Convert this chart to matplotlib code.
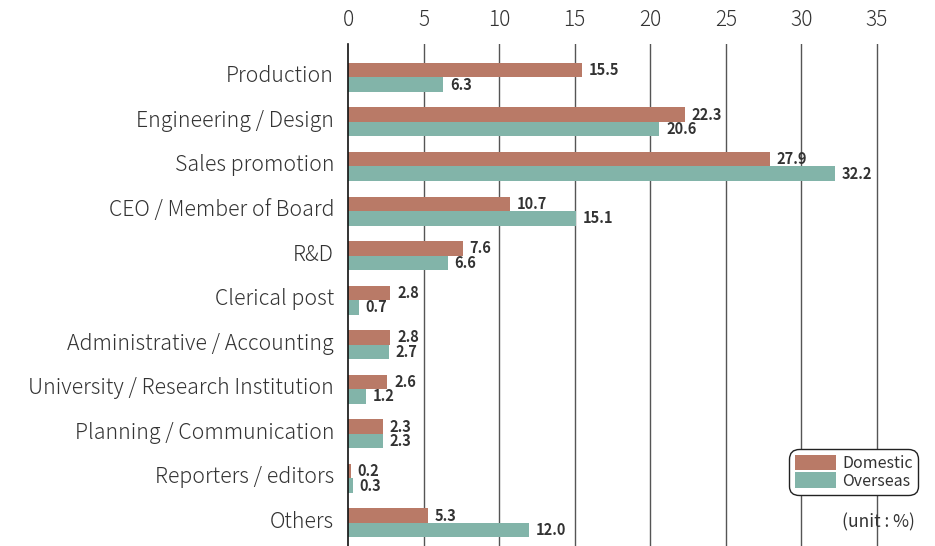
import numpy as np
import matplotlib.pyplot as plt

plt.rcParams['font.family'] = ['Noto Sans CJK JP', 'DejaVu Sans']

# data
categories = ['Production', 'Engineering / Design', 'Sales promotion',
              'CEO / Member of Board', 'R&D', 'Clerical post',
              'Administrative / Accounting', 'University / Research Institution',
              'Planning / Communication', 'Reporters / editors', 'Others']
domestic = [15.5, 22.3, 27.9, 10.7, 7.6, 2.8, 2.8, 2.6, 2.3, 0.2, 5.3]
overseas = [6.3, 20.6, 32.2, 15.1, 6.6, 0.7, 2.7, 1.2, 2.3, 0.3, 12.0]
xticks = [0, 5, 10, 15, 20, 25, 30, 35]

col_dom = '#b97a67'
col_ovs = '#82b4a9'
txt = '#333333'

fig = plt.figure(figsize=(9.35, 5.46), dpi=100)
ax = fig.add_axes([348 / 935, 0, 1 - 348 / 935, 1 - 44 / 546])

y = np.arange(len(categories))
h = 0.325
ax.barh(y - h / 2, domestic, height=h, color=col_dom, zorder=3, label='Domestic')
ax.barh(y + h / 2, overseas, height=h, color=col_ovs, zorder=3, label='Overseas')

for i in range(len(categories)):
    ax.text(domestic[i] + 0.45, y[i] - h / 2, f'{domestic[i]:.1f}', va='center', ha='left',
            fontsize=10.5, fontweight='bold', color=txt, zorder=4)
    ax.text(overseas[i] + 0.45, y[i] + h / 2, f'{overseas[i]:.1f}', va='center', ha='left',
            fontsize=10.5, fontweight='bold', color=txt, zorder=4)

ax.set_xlim(0, 587 / 15.11)
ax.set_ylim(10.52, -0.75)

# gridlines
for t in xticks[1:]:
    ax.axvline(t, color='#555555', lw=1, zorder=1)

ax.xaxis.tick_top()
ax.set_xticks(xticks)
ax.set_xticklabels([str(t) for t in xticks], fontsize=15, color=txt, fontweight='light')
ax.tick_params(axis='x', length=0, pad=9)
ax.set_yticks(y - 0.08)
ax.set_yticklabels(categories, fontsize=15.3, color=txt, fontweight='light')
ax.tick_params(axis='y', length=0, pad=10)

for s in ['top', 'right', 'bottom']:
    ax.spines[s].set_visible(False)
ax.spines['left'].set_color('#111111')
ax.spines['left'].set_linewidth(1.2)
ax.spines['left'].set_zorder(5)

leg = ax.legend(loc='upper right', bbox_to_anchor=(918 / 935, 1 - 449 / 546),
                bbox_transform=fig.transFigure, borderaxespad=0, fontsize=11.5,
                frameon=True, fancybox=True, edgecolor='#222222', framealpha=1,
                handlelength=2.6, handleheight=1.1, handletextpad=0.35,
                labelspacing=0.05, borderpad=0.35, labelcolor=txt)
leg.get_frame().set_linewidth(1)
leg.get_frame().set_boxstyle('round', pad=0, rounding_size=0.6)

fig.text(915 / 935, 1 - 522 / 546, '(unit : %)', ha='right', va='center',
         fontsize=12.5, color=txt)

fig.savefig('out.png', dpi=100)
